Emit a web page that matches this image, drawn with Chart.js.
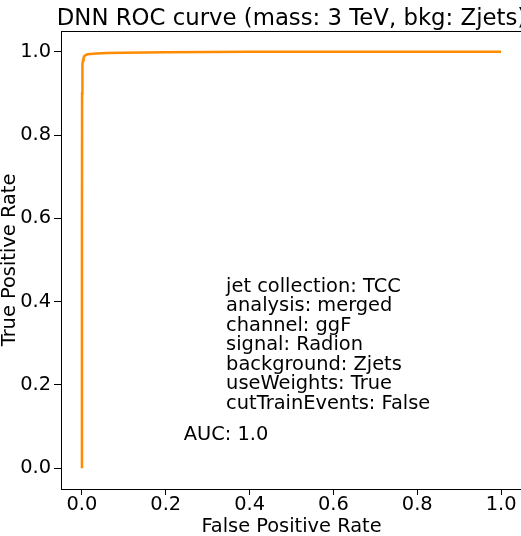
<!DOCTYPE html>
<html>
<head>
<meta charset="utf-8">
<script src="https://cdn.jsdelivr.net/npm/chart.js@4/dist/chart.umd.min.js"></script>
<style>
  html, body { margin: 0; padding: 0; background: #fff; overflow: hidden; }
  #wrap { width: 583px; height: 536px; position: absolute; left: 0; top: 0; }
</style>
</head>
<body>
<div id="wrap"><canvas id="c" width="583" height="536"></canvas></div>
<script>
// ---- data ----
const fpr = [0, 0, 0.0003, 0.0008, 0.0015, 0.0025, 0.004, 0.006, 0.009, 0.013, 0.02, 0.035, 0.06, 0.1, 0.2, 0.4, 0.7, 1.0];
const tpr = [0, 0.6, 0.9, 0.95, 0.97, 0.98, 0.986, 0.99, 0.992, 0.994, 0.995, 0.996, 0.997, 0.998, 0.999, 1.0, 1.0, 1.0];
const xTickValues = [0.0, 0.2, 0.4, 0.6, 0.8, 1.0];
const yTickValues = [0.0, 0.2, 0.4, 0.6, 0.8, 1.0];
const chartTitle = "DNN ROC curve (mass: 3 TeV, bkg: Zjets)";
const xTitle = "False Positive Rate";
const yTitle = "True Positive Rate";
const infoLines = [
  "jet collection: TCC",
  "analysis: merged",
  "channel: ggF",
  "signal: Radion",
  "background: Zjets",
  "useWeights: True",
  "cutTrainEvents: False"
];
const aucText = "AUC: 1.0";

const FONT = "'DejaVu Sans', 'Liberation Sans', sans-serif";
const FS = 19.4;

const points = fpr.map((x, i) => ({ x: x, y: tpr[i] }));

const decor = {
  id: 'decor',
  afterDraw(chart) {
    const ctx = chart.ctx;
    const a = chart.chartArea;
    const xs = chart.scales.x, ys = chart.scales.y;
    ctx.save();
    // frame (top / right spines)
    ctx.strokeStyle = '#000';
    ctx.lineWidth = 1;
    ctx.beginPath();
    ctx.moveTo(a.left, a.top + 0.5);
    ctx.lineTo(a.right, a.top + 0.5);
    ctx.moveTo(a.right - 0.5, a.top);
    ctx.lineTo(a.right - 0.5, a.bottom);
    ctx.stroke();

    ctx.fillStyle = '#000';
    // title
    ctx.font = '22.8px ' + FONT;
    ctx.textAlign = 'center';
    ctx.textBaseline = 'alphabetic';
    ctx.fillText(chartTitle, (a.left + a.right) / 2, 25);
    // x title
    ctx.font = FS + 'px ' + FONT;
    ctx.fillText(xTitle, (a.left + a.right) / 2, 532);
    // y title
    ctx.save();
    ctx.translate(15, (a.top + a.bottom) / 2);
    ctx.rotate(-Math.PI / 2);
    ctx.fillText(yTitle, 0, 0);
    ctx.restore();
    // annotation text
    ctx.textAlign = 'left';
    const ix = xs.getPixelForValue(0.344);
    const iy = ys.getPixelForValue(0.424);
    infoLines.forEach((t, i) => ctx.fillText(t, ix, iy + i * 19.5));
    ctx.fillText(aucText, xs.getPixelForValue(0.243), ys.getPixelForValue(0.067));
    ctx.restore();
  }
};

const axisCommon = {
  type: 'linear',
  min: -0.05,
  max: 1.05,
  grid: { drawOnChartArea: false, drawTicks: true, tickLength: 6, color: '#000', lineWidth: 1 },
  border: { display: true, color: '#000', width: 1 },
  ticks: {
    font: { family: FONT, size: FS },
    color: '#000',
    autoSkip: false,
    maxRotation: 0,
    callback: v => Number(v).toFixed(1)
  }
};

new Chart(document.getElementById('c'), {
  type: 'scatter',
  data: {
    datasets: [{
      data: points,
      showLine: true,
      borderColor: '#ff8c00',
      backgroundColor: '#ff8c00',
      borderWidth: 2.5,
      pointRadius: 0,
      tension: 0,
      fill: false
    }]
  },
  options: {
    responsive: false,
    animation: false,
    devicePixelRatio: 1,
    layout: { padding: { left: 0, right: 61, top: 31, bottom: 0 } },
    plugins: { legend: { display: false }, title: { display: false }, tooltip: { enabled: false } },
    scales: {
      x: Object.assign({}, axisCommon, {
        ticks: Object.assign({}, axisCommon.ticks, { padding: -2 }),
        afterBuildTicks: s => { s.ticks = xTickValues.map(v => ({ value: v })); },
        afterFit: s => { s.height = 47; }
      }),
      y: Object.assign({}, axisCommon, {
        ticks: Object.assign({}, axisCommon.ticks, { padding: 3 }),
        grid: Object.assign({}, axisCommon.grid, { tickLength: 7 }),
        afterBuildTicks: s => { s.ticks = yTickValues.map(v => ({ value: v })); },
        afterFit: s => { s.width = 61; }
      })
    }
  },
  plugins: [decor]
});
</script>
</body>
</html>
